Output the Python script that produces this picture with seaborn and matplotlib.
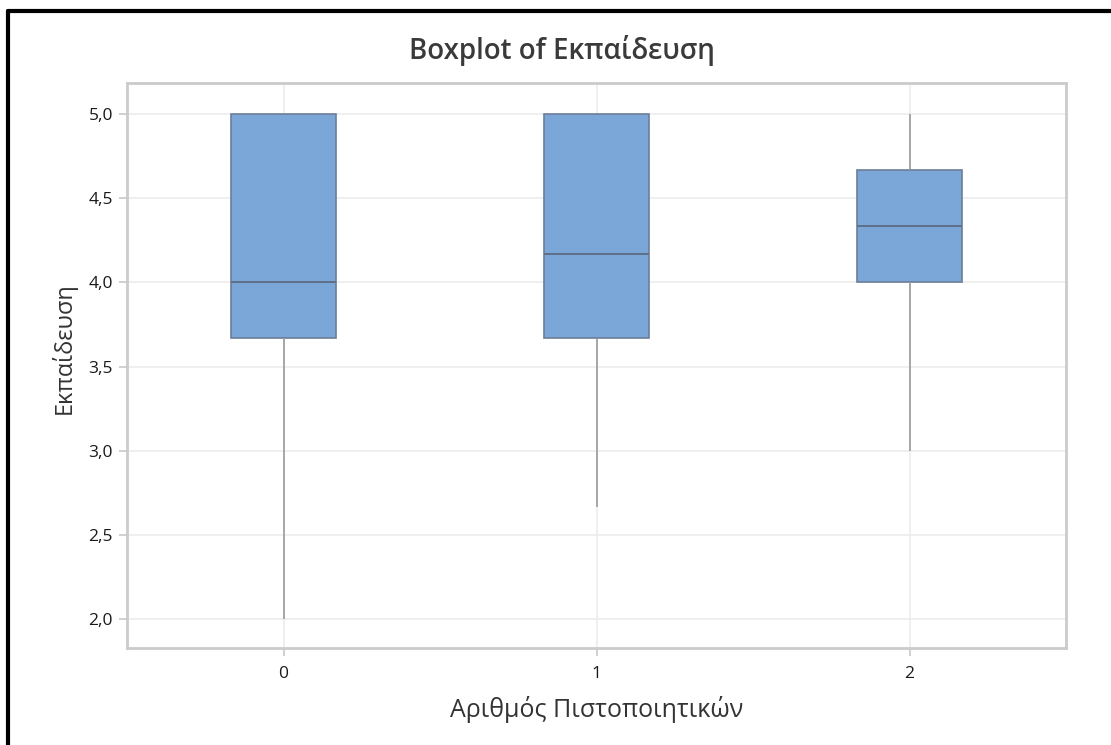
import matplotlib
matplotlib.use("Agg")
import matplotlib.pyplot as plt
import seaborn as sns
import pandas as pd
from matplotlib.lines import Line2D
from matplotlib.ticker import FuncFormatter

# Data (values reproducing the quartiles/whiskers)
categories = ["0", "1", "2"]
group_0 = [2.0, 3.667, 3.667, 4.0, 5.0, 5.0, 5.0]
group_1 = [2.667, 3.667, 3.667, 4.167, 5.0, 5.0, 5.0]
group_2 = [3.0, 4.0, 4.0, 4.333, 4.667, 4.667, 5.0]
y_ticks = [2.0, 2.5, 3.0, 3.5, 4.0, 4.5, 5.0]

title = "Boxplot of Εκπαίδευση"
x_label = "Αριθμός Πιστοποιητικών"
y_label = "Εκπαίδευση"

df = pd.DataFrame({
    "cat": [categories[0]] * len(group_0) + [categories[1]] * len(group_1) + [categories[2]] * len(group_2),
    "val": group_0 + group_1 + group_2,
})

sns.set_theme(style="white")
plt.rcParams["font.family"] = ["Open Sans", "DejaVu Sans"]

fig = plt.figure(figsize=(11.11, 7.45), dpi=100)
ax = fig.add_axes([127 / 1111, 1 - 648 / 745, (1066 - 127) / 1111, (648 - 83) / 745])

sns.boxplot(
    data=df, x="cat", y="val", order=categories, ax=ax,
    width=0.335, whis=(0, 100), showcaps=False, fliersize=0,
    color="#7ba6d8", saturation=1,
    boxprops=dict(facecolor="#7ba6d8", edgecolor="#6b7f98", linewidth=1.2, zorder=3),
    whiskerprops=dict(color="#9a9a9a", linewidth=1.2, zorder=3),
    medianprops=dict(color="#5f7088", linewidth=1.4, zorder=4),
)

ax.set_axisbelow(True)
ax.xaxis.grid(True, color="#ececec", linewidth=1.2)
ax.yaxis.grid(True, color="#ececec", linewidth=1.2)

ax.set_xlim(-0.5, 2.5)
ax.set_ylim(1.828, 5.184)
ax.set_yticks(y_ticks)
ax.yaxis.set_major_formatter(FuncFormatter(lambda v, p: f"{v:.1f}".replace(".", ",")))

for s in ax.spines.values():
    s.set_color("#cbcbcb")
    s.set_linewidth(2)

ax.tick_params(axis="both", which="major", length=6, width=1.2, color="#c8c8c8",
               labelsize=12.5, labelcolor="#1a1a1a", left=True, bottom=True, pad=4)
ax.tick_params(axis="x", pad=7)

ax.set_xlabel(x_label, fontsize=18, color="#333333", labelpad=10)
ax.set_ylabel(y_label, fontsize=17, color="#333333")
ax.yaxis.set_label_coords(-0.054, 0.531)
fig.text(562 / 1111, 1 - 50 / 745, title, ha="center", va="center",
         fontsize=20, fontweight="semibold", color="#3a3a3a")

# black frame (top and left edges)
fig.add_artist(Line2D([8 / 1111, 1.0], [1 - 11 / 745, 1 - 11 / 745], color="black", linewidth=3,
                      transform=fig.transFigure))
fig.add_artist(Line2D([8 / 1111, 8 / 1111], [0.0, 1 - 11 / 745], color="black", linewidth=3,
                      transform=fig.transFigure))

fig.savefig("out.png", dpi=100)
